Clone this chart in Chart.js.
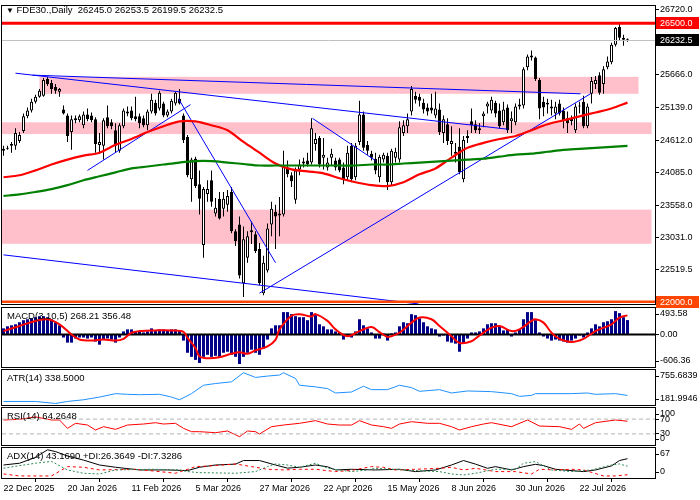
<!DOCTYPE html>
<html>
<head>
<meta charset="utf-8">
<title>FDE30 Daily</title>
<script src="https://cdn.jsdelivr.net/npm/chart.js@4.4.1/dist/chart.umd.min.js"></script>
<style>
body { margin: 0; background: #fff; }
#wrap { position: relative; width: 700px; height: 500px; overflow: hidden; }
#wrap canvas { position: absolute; left: 0; top: 0; }
.lbl { position: absolute; font: 9.5px 'Liberation Sans', Arial, sans-serif; color: #000; line-height: 12px; white-space: pre; z-index: 5; }
</style>
</head>
<body>
<div id="wrap">
  <canvas id="main" width="700" height="500"></canvas>
  <canvas id="macd" width="700" height="500"></canvas>
  <canvas id="atr" width="700" height="500"></canvas>
  <canvas id="rsi" width="700" height="500"></canvas>
  <canvas id="adx" width="700" height="500"></canvas>
  <div class="lbl" style="left:6px;top:4px;"><span style="font-size:8px">&#9660;</span> FDE30.,Daily  26245.0 26253.5 26199.5 26232.5</div>
  <div class="lbl" style="left:7px;top:310px;">MACD(3,10,5) 268.21 356.48</div>
  <div class="lbl" style="left:7px;top:372px;">ATR(14) 338.5000</div>
  <div class="lbl" style="left:7px;top:410px;">RSI(14) 64.2648</div>
  <div class="lbl" style="left:7px;top:450px;">ADX(14) 43.1690 +DI:26.3649 -DI:7.3286</div>
</div>
<script>
// Daily candles, one per trading day (index 0 = 22 Dec 2025)
const dateTickIdx = [0, 16, 32, 48, 64, 80, 96, 112, 128, 144];
const dateTickLabels = ['22 Dec 2025', '20 Jan 2026', '11 Feb 2026', '5 Mar 2026', '27 Mar 2026',
    '22 Apr 2026', '15 May 2026', '8 Jun 2026', '30 Jun 2026', '22 Jul 2026'];

const opens = [24471,24471,24550,24519,24598,24757,24995,25090,25233,25312,
    25328,25598,25534,25471,25392,25106,25011,24741,24963,24931,
    24852,25026,25011,24947,24534,24519,24979,24900,24772,24439,
    24836,25074,25090,24995,24995,24963,24852,25074,25217,25122,
    25201,25011,25074,25201,25280,25011,24661,23979,24312,23900,
    22916,23741,23963,23424,23662,23503,23566,23773,23138,23249,
    22297,22709,23154,23090,22852,22138,22503,23249,23455,23424,
    23408,24170,24043,23646,24138,24233,24280,24249,24550,24646,
    24328,24170,24328,24280,24296,24170,24011,24519,24011,24582,
    25026,24534,24392,24312,24011,24296,24360,23931,24328,24296,
    24725,24836,25074,25328,25312,25217,25138,25138,25011,25106,
    24725,24868,24550,24424,24503,23979,24646,24915,24868,24772,
    24995,25153,25090,25217,25090,24900,25138,24915,24900,25153,
    25169,25788,25979,25947,25582,25233,25217,25153,25042,25201,
    25090,24963,24963,24772,25153,25233,24836,25360,25518,25661,
    25518,25788,25868,26153,26439,26264,26245];
const highs = [24519,24519,24582,24804,24741,25042,25138,25280,25344,25439,
    25614,25630,25582,25518,25455,25169,25042,25011,25011,25026,
    25074,25122,25058,24979,24725,24963,25169,24947,24884,24884,
    25122,25153,25153,25312,25042,25011,25106,25360,25265,25407,
    25233,25106,25280,25392,25439,25042,24693,24328,24344,24122,
    23852,23963,24122,23677,23773,23773,23804,23852,23170,23376,
    23217,23138,23297,23138,22948,22741,23265,23614,23566,23693,
    24439,24280,24090,24170,24296,24328,24408,24963,24725,24677,
    24646,24328,24471,24328,24328,24249,24519,24566,24566,25249,
    25074,24598,24439,24408,24376,24408,24408,24471,24487,24915,
    24931,25042,25487,25392,25360,25280,25201,25360,25392,25201,
    25011,24963,24836,24566,24804,24677,24772,25122,24931,24884,
    25074,25233,25312,25249,25201,25233,25185,25074,25201,25280,
    25788,25994,26058,25963,25614,25312,25280,25265,25233,25265,
    25138,25074,25011,25201,25233,25328,25201,25630,25646,25709,
    25804,25963,26185,26439,26502,26312,26253.5];
const lows = [24360,24455,24408,24455,24566,24725,24963,25058,25201,25296,
    25312,25487,25360,25360,25312,25026,24582,24455,24884,24900,
    24804,24915,24900,24408,24392,24296,24804,24788,24408,24408,
    24804,24995,24931,24915,24804,24820,24772,25042,25011,25090,
    24979,24979,25042,25169,25185,24566,24011,23614,23836,23408,
    22709,23614,23535,23376,23328,23376,23455,23106,22900,22376,
    22075,22630,22932,22789,22265,22106,22471,23059,22852,23059,
    23376,24011,23852,23582,24043,24170,24185,24217,24439,24170,
    24138,24122,24201,24122,24090,23900,23963,23931,23963,24534,
    24439,24376,24280,24058,23931,24249,23804,23884,24249,24249,
    24677,24725,25011,25201,25153,25042,25011,25042,24963,24693,
    24566,24534,24360,24249,24058,23931,24566,24725,24725,24709,
    24820,25042,25042,24979,24804,24852,24725,24725,24852,25106,
    25122,25741,25899,25566,24947,24995,25042,25011,24947,25011,
    24804,24725,24852,24725,25042,24804,24804,25201,25439,25344,
    25360,25756,25836,26122,26217,26138,26199.5];
const closes = [24439,24487,24519,24725,24693,24995,25090,25233,25312,25407,
    25582,25518,25439,25407,25439,25042,24677,24947,24931,24995,
    25026,24947,24931,24550,24582,24931,24836,24836,24519,24852,
    25090,25042,24963,24947,24884,24852,25074,25265,25042,25376,
    25011,25074,25249,25376,25201,24614,24043,24296,23868,23662,
    23820,23820,23614,23519,23344,23662,23709,23138,22979,22424,
    23011,23059,23122,22820,22297,22630,23185,23503,23376,23392,
    24201,24058,23947,24122,24217,24265,24217,24804,24630,24217,
    24376,24249,24392,24170,24122,23979,24408,23979,24519,25026,
    24487,24439,24328,24122,24344,24376,23931,24439,24424,24820,
    24852,24947,25439,25265,25249,25106,25074,25090,25122,24741,
    24947,24598,24598,24392,24090,24614,24677,24852,24772,24804,
    25042,25201,25265,25042,24836,25106,24772,24963,25153,25185,
    25756,25963,25947,25598,25122,25138,25185,25122,25153,25042,
    24931,24884,24915,25153,25169,24836,25153,25566,25582,25376,
    25756,25883,26153,26423,26264,26233,26232.5];

// moving averages, read every 4th bar
const maIdx = [0,4,8,12,16,20,24,28,32,36,40,44,48,52,56,60,64,68,72,76,
    80,84,88,92,96,100,104,108,112,116,120,124,128,132,136,140,144,148,152,156];
const maRed = [24011,24043,24122,24217,24296,24360,24408,24535,24630,24741,
    24836,24915,24915,24852,24772,24582,24408,24233,24138,24106,
    24074,23995,23931,23884,23868,23931,24058,24154,24328,24487,
    24566,24630,24677,24772,24868,24931,24995,25058,25122,25217];
const maGreen = [23709,23733,23773,23820,23884,23963,24027,24090,24154,24185,
    24217,24249,24272,24272,24249,24225,24201,24201,24201,24201,
    24201,24201,24201,24217,24217,24233,24249,24265,24280,24296,
    24312,24344,24376,24392,24423,24455,24471,24487,24503,24519];

// pink zones (bar index span, price band)
const zoneFrom = [9, -1, -1];
const zoneTo = [158.75, 162, 162];
const zoneLow = [25360, 24709, 22936];
const zoneHigh = [25634, 24899, 23487];

// hand-drawn trend lines
const trendX1 = [3, 7.25, 21, 43.75, 0, 64, 77.25];
const trendY1 = [25693, 25661, 24122, 25280, 22757, 22138, 24963];
const trendX2 = [126, 144.25, 46.75, 68, 103.75, 146.75, 93];
const trendY2 = [24788, 25360, 25185, 22630, 21964, 25360, 24280];

const levelPrices = [26500, 22000];
const mainTicks = [26720, 25666, 25139, 24612, 24085, 23558, 23031, 22519.5];

// MACD(3,10,5)
const macdHist = [114,152,171,190,228,266,284,303,322,341,
    341,322,284,228,171,-57,-152,-152,-76,-57,
    -57,-76,-57,-133,-190,-95,-76,-95,-152,-57,
    57,95,95,57,57,38,57,114,76,95,
    95,76,95,95,76,-114,-341,-417,-474,-531,
    -417,-379,-417,-398,-417,-341,-322,-379,-417,-550,
    -417,-341,-284,-341,-379,-266,-95,114,171,171,
    417,417,379,341,322,322,266,417,360,190,
    152,95,95,57,38,-95,-38,-57,57,284,
    171,114,38,-76,-76,19,-114,19,38,152,
    228,209,379,360,303,228,152,114,95,-38,
    -19,-133,-152,-171,-322,-171,-76,38,38,57,
    114,190,209,209,152,76,95,-38,38,95,
    284,417,417,266,38,-38,-76,-114,-95,-114,
    -133,-152,-114,-76,-19,-57,38,114,190,152,
    228,247,284,436,398,322,268.21];
const macdSigIdx = [0,4,8,11,14,17,19,22,25,28,30,32,34,38,42,45,46,48,49,51,
    54,57,59,61,63,66,68,69,72,74,77,78,81,83,86,89,92,94,96,97,
    99,102,104,107,109,112,114,117,119,122,124,127,129,132,133,135,137,139,142,145,
    148,152,154,156];
const macdSig = [63,158,253,284,190,0,-95,-114,-95,-114,-82,32,63,76,76,50,-63,-253,-411,-442,
    -423,-360,-330,-360,-297,-221,-100,95,348,379,335,379,253,95,-32,63,139,44,-44,-32,
    32,221,316,284,158,-32,-158,-126,-19,126,158,63,95,253,284,221,32,-82,-139,-82,
    63,190,316,356.48];
const macdTickLabels = ['493.58', '0.00', '-606.36'];

// ATR(14)
const atrIdx = [0,8,13,16,20,24,28,31,34,39,42,44,47,50,53,57,60,63,66,69,
    70,73,74,78,81,83,87,90,92,96,99,102,104,109,112,116,122,127,129,132,
    133,142,146,148,153,156];
const atrVals = [240,240,207,240,268,312,368,357,351,357,312,268,368,506,534,562,711,634,656,673,
    711,617,506,479,451,379,395,490,434,434,506,467,406,434,379,412,401,368,323,340,
    368,368,379,357,368,338.5];
const atrTickLabels = ['755.6839', '181.9946'];

// RSI(14)
const rsiIdx = [0,4,8,12,14,16,18,21,23,25,28,31,35,38,40,43,45,47,49,53,
    56,59,61,63,64,67,70,74,78,81,84,87,89,92,95,97,99,102,106,109,
    112,114,117,120,122,127,131,134,139,142,144,145,148,153,156];
const rsiVals = [67.6,69.4,76,67.6,67.6,45,58.6,54,40.5,49.5,42.3,54,56.7,60.3,56.7,58.6,45,36,36,33.3,
    37.8,22.5,37.8,36,29.7,49.5,54,58.6,65.8,56.7,54,54,65.8,54,49.5,45,56.7,63,58.6,58.6,
    49.5,40.5,49.5,56.7,60.3,49.5,67.6,51.3,49.5,42.3,56.7,45,60.3,67.6,64.26];
const rsiLevels = [70, 30];
const rsiTickLabels = ['100', '70', '30', '0'];

// ADX(14) with +DI / -DI
const adxIdx = [0,4,8,11,13,16,20,24,28,34,41,46,49,53,58,60,64,68,71,74,
    78,81,83,87,93,99,103,108,112,115,118,121,123,127,130,133,135,138,145,148,
    152,154,156];
const adxVals = [29,33,46,63,59,49,40,29,24,18,18,16.5,24,29,31,39,39,29,22,24,
    29,25,18,19.5,18,19.5,14.3,18,29,39,31,21.7,25.4,18,25.4,30.6,27.7,19.5,14.3,18,
    27,39,43.17];
const pdiIdx = [0,8,12,16,20,24,28,37,44,46,49,58,63,66,68,71,74,78,81,87,
    91,93,97,103,109,112,115,118,123,128,130,133,137,142,147,152,154,156];
const pdiVals = [22,33,37,18,10.6,9,18,19.5,18,14.3,12,10.6,14.3,25.4,31.4,29,24,33,22,14.3,
    18,21.7,19.5,16.5,14.3,9,6.8,10.6,19.5,19.5,32.9,36.6,18,14.3,18,29.1,31.4,26.36];
const mdiIdx = [0,4,12,16,20,24,33,39,43,48,53,58,62,66,70,74,78,83,87,92,
    95,98,103,109,112,115,118,123,128,132,134,138,142,145,150,153,156];
const mdiVals = [9,4.6,4.6,25.4,24,18,19.5,14.3,10.6,25.4,27.7,31.4,25.4,19.5,18,19.5,19.5,14.3,17,25.4,
    23.9,18,19.5,21.7,23.9,18,21.7,14.3,14.3,9,19.5,18,19.5,18,4.6,4.6,7.33];
const adxTickLabels = ['67', '0'];

// ---- layout ----
const AXIS_W = 45, DATE_H = 22, LABEL_INSET = 6;
// 4 px per bar, bar centres on half pixels so bodies and wicks stay crisp
const X_MIN = -0.375, X_MAX = 162.875;
const AXIS_FONT = { family: "'Liberation Sans', Arial, sans-serif", size: 9 };
const PANELS = {
    main: { top: 1, bottom: 304 },
    macd: { top: 308, bottom: 367 },
    atr: { top: 370, bottom: 405 },
    rsi: { top: 408, bottom: 445 },
    adx: { top: 448, bottom: 478 }
};

function pts(xs, ys) {
    return xs.map((x, k) => ({ x: x, y: ys[k] }));
}

// metatrader puts the min/max labels a few pixels inside the window
function insetTicks(min, max, panel, mids) {
    const d = (max - min) * LABEL_INSET / (panel.bottom - panel.top);
    return [max - d].concat(mids, [min + d]);
}

function xAxis(showDates) {
    return {
        type: 'linear', min: X_MIN, max: X_MAX, offset: false, display: showDates,
        grid: { drawOnChartArea: false, tickLength: 4, color: '#000' },
        border: { color: '#000' },
        afterFit: s => { s.height = showDates ? DATE_H : 0; },
        afterBuildTicks: s => { s.ticks = dateTickIdx.map(v => ({ value: v })); },
        ticks: {
            align: 'start', maxRotation: 0, autoSkip: false, padding: 1, color: '#000', font: AXIS_FONT,
            callback: (v, i) => dateTickLabels[i]
        }
    };
}

function yAxis(min, max, values, labels) {
    return {
        position: 'right', min: min, max: max,
        grid: { drawOnChartArea: false, tickLength: 4, color: '#000' },
        border: { color: '#000' },
        afterFit: s => { s.width = AXIS_W; },
        afterBuildTicks: s => { s.ticks = values.map(v => ({ value: v })); },
        ticks: { padding: 1, autoSkip: false, color: '#000', font: AXIS_FONT, callback: (v, i) => labels[i] }
    };
}

function line(data, color, width, dash) {
    return {
        type: 'line', data: data, borderColor: color, borderWidth: width, borderDash: dash || [],
        pointRadius: 0, tension: 0, fill: false, order: 0
    };
}

const framePlugin = {
    id: 'frame',
    afterDraw(chart) {
        const { ctx, chartArea: a } = chart;
        ctx.save();
        ctx.strokeStyle = '#000';
        ctx.lineWidth = 1;
        ctx.strokeRect(Math.round(a.left) - 0.5, Math.round(a.top) - 0.5,
            Math.round(a.right - a.left) + 1, Math.round(a.bottom - a.top) + 1);
        ctx.restore();
    }
};

const zonePlugin = {
    id: 'zones',
    beforeDatasetsDraw(chart) {
        const { ctx, chartArea: a, scales: { x, y } } = chart;
        ctx.save();
        ctx.beginPath();
        ctx.rect(a.left, a.top, a.right - a.left, a.bottom - a.top);
        ctx.clip();
        ctx.fillStyle = '#ffc0cb';
        zoneFrom.forEach((f, k) => {
            const x1 = x.getPixelForValue(f), x2 = x.getPixelForValue(zoneTo[k]);
            const y1 = y.getPixelForValue(zoneHigh[k]), y2 = y.getPixelForValue(zoneLow[k]);
            ctx.fillRect(x1, y1, x2 - x1, y2 - y1);
        });
        ctx.restore();
    }
};

function hline(ctx, a, py, color, width) {
    ctx.strokeStyle = color;
    ctx.lineWidth = width;
    ctx.beginPath();
    ctx.moveTo(a.left, py);
    ctx.lineTo(a.right, py);
    ctx.stroke();
}

function valueBox(ctx, x, py, text, color) {
    ctx.fillStyle = color;
    ctx.fillRect(x, Math.round(py) - 6, 43, 12);
    ctx.fillStyle = '#fff';
    ctx.font = '9px ' + AXIS_FONT.family;
    ctx.textBaseline = 'middle';
    ctx.textAlign = 'left';
    ctx.fillText(text, x + 4, Math.round(py) + 0.5);
}

const levelPlugin = {
    id: 'levels',
    afterDatasetsDraw(chart) {
        const { ctx, chartArea: a, scales: { y } } = chart;
        ctx.save();
        ctx.beginPath();
        ctx.rect(a.left, a.top, a.right - a.left, a.bottom - a.top);
        ctx.clip();
        hline(ctx, a, Math.round(y.getPixelForValue(closes[closes.length - 1])) + 0.5, '#c0c0c0', 1);
        hline(ctx, a, y.getPixelForValue(levelPrices[0]), '#ff0000', 3);
        hline(ctx, a, y.getPixelForValue(levelPrices[1]), '#ff4500', 2.5);
        ctx.restore();
    },
    afterDraw(chart) {
        const { ctx, chartArea: a, scales: { y } } = chart;
        const last = closes[closes.length - 1];
        ctx.save();
        valueBox(ctx, a.right + 1, y.getPixelForValue(levelPrices[0]), levelPrices[0].toFixed(1), '#ff0000');
        valueBox(ctx, a.right + 1, y.getPixelForValue(last), last.toFixed(1), '#000');
        valueBox(ctx, a.right + 1, y.getPixelForValue(levelPrices[1]), levelPrices[1].toFixed(1), '#ff4500');
        ctx.restore();
    }
};

function makeChart(id, panel, datasets, y, showDates, extra) {
    return new Chart(document.getElementById(id), {
        type: 'bar',
        data: { datasets: datasets },
        options: {
            responsive: false,
            animation: false,
            events: [],
            layout: { padding: { left: 2, right: 0, top: panel.top, bottom: 500 - panel.bottom - (showDates ? DATE_H : 0) } },
            plugins: { legend: { display: false }, tooltip: { enabled: false } },
            scales: { x: xAxis(showDates), y: y }
        },
        plugins: [framePlugin].concat(extra || [])
    });
}

// ---- price window ----
const mainMin = 21963, mainMax = 26772;
const mainSets = [
    {
        data: closes.map((c, i) => ({ x: i, y: [lows[i], highs[i]] })),
        backgroundColor: '#000', grouped: false, categoryPercentage: 1, barPercentage: 0.25, order: 3
    },
    {
        data: closes.map((c, i) => ({ x: i, y: [opens[i], c] })),
        backgroundColor: ctx => closes[ctx.dataIndex] >= opens[ctx.dataIndex] ? '#fff' : '#000',
        borderColor: '#000', borderWidth: 1, borderSkipped: false, minBarLength: 1,
        grouped: false, categoryPercentage: 1, barPercentage: 0.75, order: 2
    },
    line(pts(maIdx, maGreen), '#008000', 2.2),
    line(pts(maIdx, maRed), '#ff0000', 2.2)
];
trendX1.forEach((x1, k) => {
    mainSets.push(line([{ x: x1, y: trendY1[k] }, { x: trendX2[k], y: trendY2[k] }], '#0000ff', 1));
});
mainSets[2].tension = 0.3;
mainSets[3].tension = 0.3;
makeChart('main', PANELS.main, mainSets,
    yAxis(mainMin, mainMax, mainTicks, mainTicks.map(v => v.toFixed(1))), false, [zonePlugin, levelPlugin]);

// ---- MACD ----
const macdMin = -606.36, macdMax = 493.58;
makeChart('macd', PANELS.macd, [
    {
        data: macdHist.map((v, i) => ({ x: i, y: v })),
        backgroundColor: '#000088', grouped: false, categoryPercentage: 1, barPercentage: 0.75, order: 2
    },
    Object.assign(line(pts(macdSigIdx, macdSig), '#ff0000', 2), { tension: 0.35 }),
    line([{ x: X_MIN, y: 0 }, { x: X_MAX, y: 0 }], '#000', 2)
], yAxis(macdMin, macdMax, insetTicks(macdMin, macdMax, PANELS.macd, [0]), macdTickLabels), false);

// ---- ATR ----
const atrMin = 181.9946, atrMax = 755.6839;
makeChart('atr', PANELS.atr, [
    line(pts(atrIdx, atrVals), '#1e90ff', 1)
], yAxis(atrMin, atrMax, insetTicks(atrMin, atrMax, PANELS.atr, []), atrTickLabels), false);

// ---- RSI ----
makeChart('rsi', PANELS.rsi, [
    line([{ x: X_MIN, y: rsiLevels[0] }, { x: X_MAX, y: rsiLevels[0] }], '#b4b4b4', 1, [4, 3]),
    line([{ x: X_MIN, y: rsiLevels[1] }, { x: X_MAX, y: rsiLevels[1] }], '#b4b4b4', 1, [4, 3]),
    line(pts(rsiIdx, rsiVals), '#ff0000', 1)
], yAxis(0, 100, insetTicks(0, 100, PANELS.rsi, rsiLevels), rsiTickLabels), false);

// ---- ADX ----
makeChart('adx', PANELS.adx, [
    line(pts(pdiIdx, pdiVals), '#2e8b57', 1, [2, 2]),
    line(pts(mdiIdx, mdiVals), '#ff0000', 1, [3, 3]),
    line(pts(adxIdx, adxVals), '#000', 1)
], yAxis(0, 67, insetTicks(0, 67, PANELS.adx, []), adxTickLabels), true);
</script>
</body>
</html>
